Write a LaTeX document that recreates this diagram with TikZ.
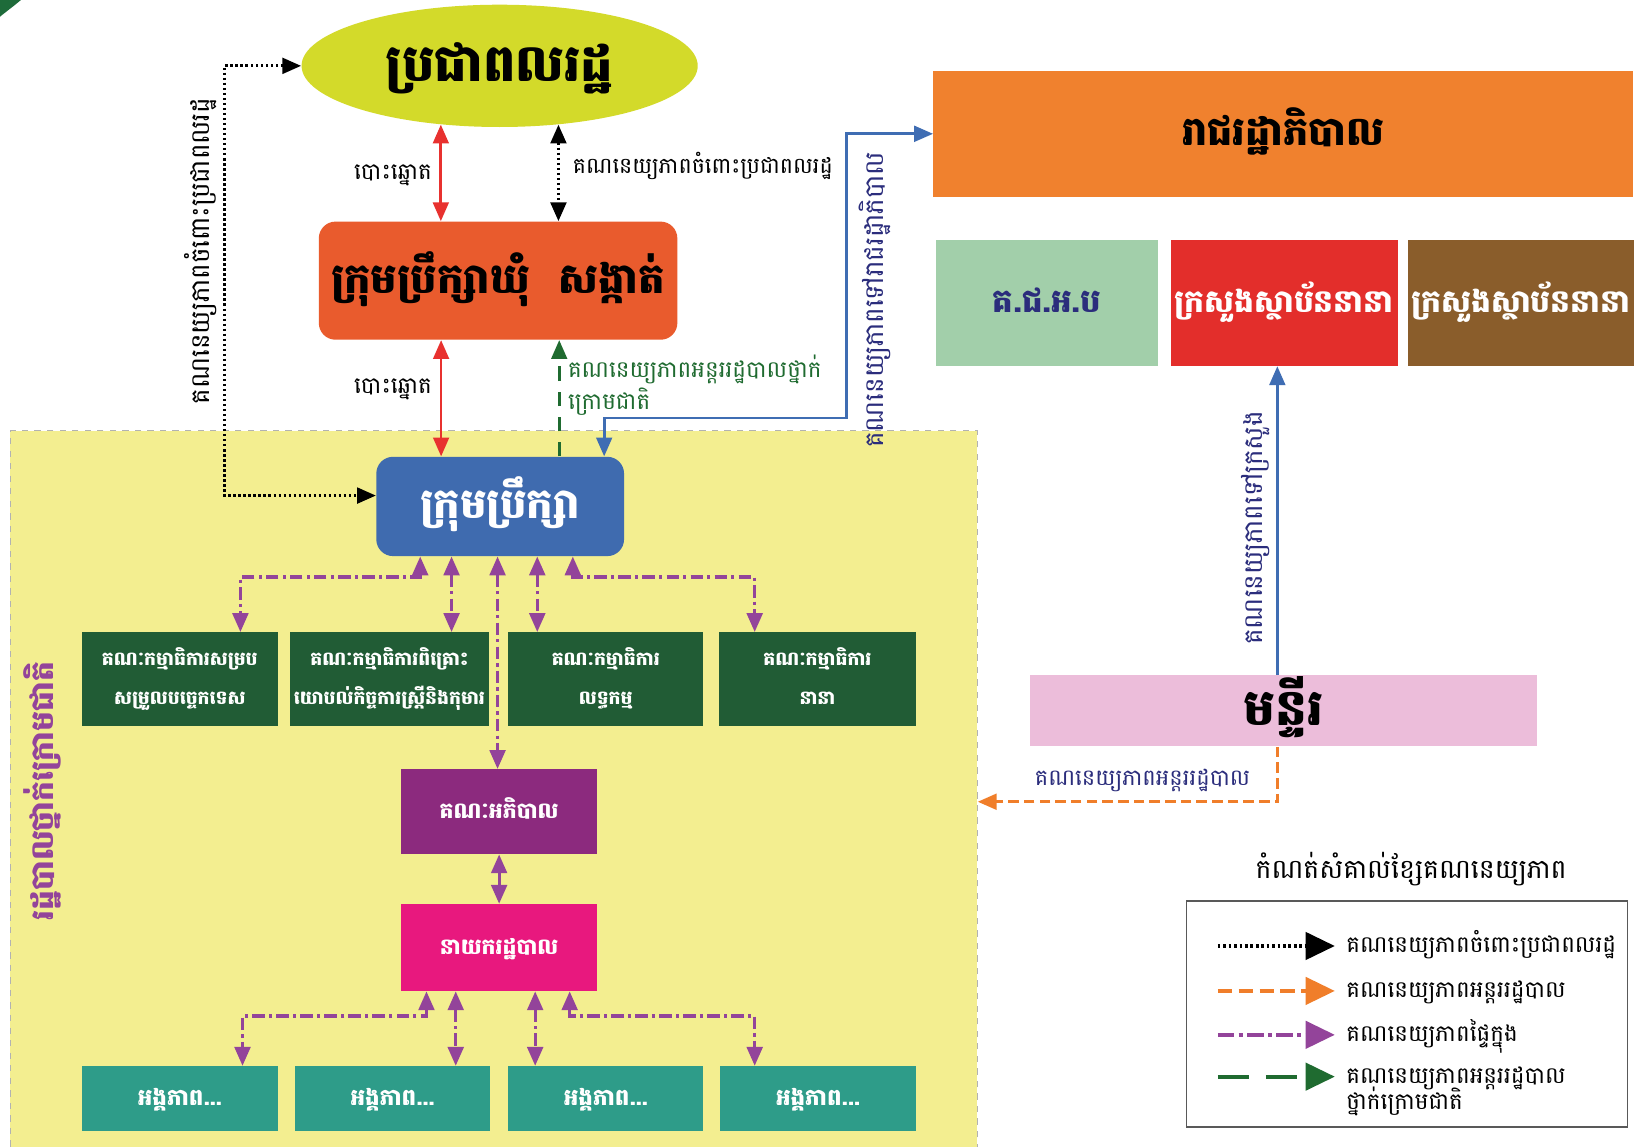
\documentclass[tikz,border=0pt]{standalone}
\usepackage{fontspec}
\setmainfont[Script=Khmer]{Battambang}
\usetikzlibrary{arrows.meta,shapes.geometric,calc}
\definecolor{peopleY}{HTML}{D3DA2A}
\definecolor{communeO}{HTML}{E95B2D}
\definecolor{councilB}{HTML}{3F6BAF}
\definecolor{yellowBg}{HTML}{F3EE90}
\definecolor{greenDk}{HTML}{215C35}
\definecolor{purpBox}{HTML}{8C2A7E}
\definecolor{magBox}{HTML}{E8187E}
\definecolor{tealBox}{HTML}{2E9C89}
\definecolor{govO}{HTML}{F0812E}
\definecolor{lightG}{HTML}{A2CFAA}
\definecolor{redBox}{HTML}{E32E2B}
\definecolor{brownBox}{HTML}{8A5D2B}
\definecolor{pinkBox}{HTML}{ECBDDA}
\definecolor{arrRed}{HTML}{E8312F}
\definecolor{arrPurp}{HTML}{93449A}
\definecolor{arrBlue}{HTML}{3F6DB3}
\definecolor{navyTxt}{HTML}{2B2D7C}
\definecolor{arrGreen}{HTML}{1F6B30}
\definecolor{arrOrange}{HTML}{F07E2A}
\definecolor{cornerG}{HTML}{1E6B3A}
% two-line blocks: baseline of the block is the last line
\newcommand\twoc[2]{\vbox{\lineskiplimit=-100pt\lineskip=0pt\halign{\hfil##\hfil\cr #1\cr #2\cr}}}
\newcommand\twol[2]{\vbox{\lineskiplimit=-100pt\lineskip=0pt\halign{##\hfil\cr #1\cr #2\cr}}}
\begin{document}
\begin{tikzpicture}[x=0.5pt,y=-0.5pt,
  >={Triangle[length=9pt,width=7.5pt]},
  box/.style={inner sep=0pt,draw=none},
  pl/.style n args={4}{at={({(#1+#3)/2},{(#2+#4)/2})},minimum width={(#3-#1)*0.5pt},minimum height={(#4-#2)*0.5pt}},
  fs/.style={font=\fontsize{#1}{#1}\selectfont,text height={\dimexpr #1pt*6/10\relax},text depth=0pt},
  fsb/.style={font=\fontsize{#1}{#1}\selectfont\bfseries,text height={\dimexpr #1pt*6/10\relax},text depth=0pt},
  fsb2/.style 2 args={font=\fontsize{#1}{#2}\selectfont\bfseries,text height={\dimexpr #2pt+#1pt*6/10\relax},text depth=0pt},
  fs2/.style 2 args={font=\fontsize{#1}{#2}\selectfont,text height={\dimexpr #2pt+#1pt*6/10\relax},text depth=0pt},
  redarr/.style={draw=arrRed,line width=1.3pt,<->},
  dotarr/.style={draw=black,line width=1.5pt,dash pattern=on 1.2pt off 1.2pt,<->},
  purparr/.style={draw=arrPurp,line width=1.5pt,dash pattern=on 6pt off 2pt on 1.5pt off 2pt,<->},
  bluarr/.style={draw=arrBlue,line width=1.3pt},
  grnarr/.style={draw=arrGreen,line width=1.3pt,dash pattern=on 7pt off 5pt,->},
  orarr/.style={draw=arrOrange,line width=1.4pt,dash pattern=on 5pt off 2.5pt,->},
  legtip/.style={-{Triangle[length=14pt,width=13pt]}},
]
\fill[white] (0,0) rectangle (1568,1097);
\useasboundingbox (0,0) rectangle (1568,1097);
\fill[cornerG] (0,0) -- (20,0) .. controls (13,6) and (6,11) .. (0,16) -- cycle;

% sub-national region
\node[box,fill=yellowBg,draw=gray!60,dashed,line width=0.4pt,pl={10}{412}{935}{1099}] (region) {};
\node[rotate=90,text=arrPurp,fsb=15] (regionlbl) at (42,757) {រដ្ឋបាលថ្នាក់ក្រោមជាតិ};

% main nodes
\node[ellipse,fill=peopleY,minimum width=189.5pt,minimum height=58.5pt,inner sep=0pt,fsb=24.5] (people) at (478,63) {ប្រជាពលរដ្ឋ};
\node[box,fsb=20,fill=communeO,rounded corners=8pt,pl={305}{212}{648}{325}] (commune) {ក្រុមប្រឹក្សាឃុំ\ \ សង្កាត់};
\node[box,fsb=20,fill=councilB,text=white,rounded corners=8pt,pl={360}{437}{597}{532}] (council) {ក្រុមប្រឹក្សា};

\node[box,fsb2={9}{18.5},text=white,fill=greenDk,pl={78}{605}{266}{695}] (g1) {\twoc{គណៈកម្មាធិការសម្រប}{សម្រួលបច្ចេកទេស}};
\node[box,fsb2={9}{18.5},text=white,fill=greenDk,pl={277}{605}{468}{695}] (g2) {\twoc{គណៈកម្មាធិការពិគ្រោះ}{យោបល់កិច្ចការស្ត្រីនិងកុមារ}};
\node[box,fsb2={9}{18.5},text=white,fill=greenDk,pl={486}{605}{673}{695}] (g3) {\twoc{គណៈកម្មាធិការ}{លទ្ធកម្ម}};
\node[box,fsb2={9}{18.5},text=white,fill=greenDk,pl={688}{605}{876}{695}] (g4) {\twoc{គណៈកម្មាធិការ}{នានា}};

\node[box,fsb=10.5,text=white,fill=purpBox,pl={384}{736}{571}{817}] (governors) {គណៈអភិបាល};
\node[box,fsb=10.5,text=white,fill=magBox,pl={384}{865}{571}{948}] (director) {នាយករដ្ឋបាល};

\node[box,fsb=11,text=white,fill=tealBox,pl={78}{1020}{266}{1082}] (t1) {អង្គភាព...};
\node[box,fsb=11,text=white,fill=tealBox,pl={282}{1020}{469}{1082}] (t2) {អង្គភាព...};
\node[box,fsb=11,text=white,fill=tealBox,pl={486}{1020}{673}{1082}] (t3) {អង្គភាព...};
\node[box,fsb=11,text=white,fill=tealBox,pl={689}{1020}{876}{1082}] (t4) {អង្គភាព...};

% right side
\node[box,fill=govO,fsb=19,pl={893}{68}{1562}{188}] (gov) {រាជរដ្ឋាភិបាល};
\node[box,fill=lightG,text=navyTxt,fsb=15.5,pl={895}{230}{1108}{350}] (ncdd) {គ.ជ.អ.ប};
\node[box,fill=redBox,text=white,fsb=15,pl={1120}{230}{1337}{350}] (min1) {ក្រសួងស្ថាប័ននានា};
\node[box,fill=brownBox,text=white,fsb=15,pl={1347}{230}{1563}{350}] (min2) {ក្រសួងស្ថាប័ននានា};
\node[box,fill=pinkBox,fsb=24,pl={985}{646}{1470}{714}] (dept) {មន្ទីរ};

% coordinates
\coordinate (lx) at (215,0);
\coordinate (rx) at (422,0);
\coordinate (gx) at (535,0);
\coordinate (b1) at (578,400);
\coordinate (b2) at (810,400);
\coordinate (vx) at (1222,0);
\coordinate (oy) at (0,767);

% connectors top
\draw[dotarr] (people.west) -- (people.west -| lx) -- (council.175 -| lx) -- (council.175);
\draw[redarr] (people.225) -- (people.225 |- commune.north);
\draw[dotarr] (people.-45) -- (people.-45 |- commune.north);
\draw[redarr] (commune.south -| rx) -- (council.north -| rx);
\draw[grnarr] (council.north -| gx) -- (commune.south -| gx);
\draw[bluarr,<->] (council.north -| b1) -- (b1) -- (b2) -- (b2 |- gov.west) -- (gov.west);
\draw[bluarr,->] (dept.north -| vx) -- (min1.south -| vx);
\draw[orarr] (dept.south -| vx) -- (vx |- oy) -- (region.east |- oy);

% labels
\node[fs=11] (v1) at (376,165) {បោះឆ្នោត};
\node[fs=11] (v2) at (376,370) {បោះឆ្នោត};
\node[fs=10.6,anchor=west] (accp) at (541,160) {គណនេយ្យភាពចំពោះប្រជាពលរដ្ឋ};
\node[fs2={11}{15},anchor=west,text=arrGreen,inner xsep=0pt] (accsn) at (543,370) {\twol{គណនេយ្យភាពអន្តររដ្ឋបាលថ្នាក់}{ក្រោមជាតិ}};
\node[fs=12.5,rotate=90] (accpv) at (193,240) {គណនេយ្យភាពចំពោះប្រជាពលរដ្ឋ};
\node[fs=12.5,rotate=90,text=navyTxt] (accgov) at (838,287) {គណនេយ្យភាពទៅរាជរដ្ឋាភិបាល};
\node[fs=12.5,rotate=90,text=navyTxt] (accmin) at (1200,505) {គណនេយ្យភាពទៅក្រសួង};
\node[fs=10.8,text=navyTxt] (accadm) at (1093,745) {គណនេយ្យភាពអន្តររដ្ឋបាល};

% internal purple connectors from council
\coordinate (c1) at (402,552);
\coordinate (c5) at (548,552);
\coordinate (d1) at (230,0);
\coordinate (d2) at (432,0);
\coordinate (d3) at (476,0);
\coordinate (d4) at (514,0);
\coordinate (d5) at (722,0);
\draw[purparr] (council.south -| c1) -- (c1) -| (g1.north -| d1);
\draw[purparr] (council.south -| d2) -- (g2.north -| d2);
\draw[purparr] (council.south -| d4) -- (g3.north -| d4);
\draw[purparr] (council.south -| c5) -- (c5) -| (g4.north -| d5);
\draw[purparr] (council.south -| d3) -- (governors.north -| d3);
\draw[purparr] (governors.south) -- (director.north);

% from director to units
\coordinate (e1) at (408,972);
\coordinate (e5) at (545,972);
\coordinate (f1) at (232,0);
\coordinate (f2) at (436,0);
\coordinate (f4) at (512,0);
\coordinate (f5) at (722,0);
\draw[purparr] (director.south -| e1) -- (e1) -| (t1.north -| f1);
\draw[purparr] (director.south -| f2) -- (t2.north -| f2);
\draw[purparr] (director.south -| f4) -- (t3.north -| f4);
\draw[purparr] (director.south -| e5) -- (e5) -| (t4.north -| f5);

% legend
\node[fs=12.8] (legtitle) at (1350,833) {កំណត់សំគាល់ខ្សែគណនេយ្យភាព};
\node[box,draw=gray!70!black,line width=0.8pt,pl={1135}{862}{1557}{1078}] (legend) {};
\coordinate (la1) at (1165,905); \coordinate (lb1) at (1277,905);
\coordinate (la2) at (1165,948); \coordinate (lb2) at (1277,948);
\coordinate (la3) at (1165,990); \coordinate (lb3) at (1277,990);
\coordinate (la4) at (1165,1030); \coordinate (lb4) at (1277,1030);
\draw[line width=2pt,dash pattern=on 1.3pt off 1.3pt,legtip] (la1) -- (lb1);
\draw[arrOrange,line width=2pt,dash pattern=on 7pt off 3pt,legtip] (la2) -- (lb2);
\draw[arrPurp,line width=2pt,dash pattern=on 8pt off 2pt on 2pt off 2pt,legtip] (la3) -- (lb3);
\draw[arrGreen,line width=2pt,dash pattern=on 15pt off 8pt,legtip] (la4) -- (lb4);
\node[fs=11,anchor=west] (li1) at (1281,905) {គណនេយ្យភាពចំពោះប្រជាពលរដ្ឋ};
\node[fs=11,anchor=west] (li2) at (1281,948) {គណនេយ្យភាពអន្តររដ្ឋបាល};
\node[fs=11,anchor=west] (li3) at (1281,990) {គណនេយ្យភាពផ្ទៃក្នុង};
\node[fs2={11}{12.5},anchor=west] (li4) at (1281,1042) {\twol{គណនេយ្យភាពអន្តររដ្ឋបាល}{ថ្នាក់ក្រោមជាតិ}};
\end{tikzpicture}
\end{document}
